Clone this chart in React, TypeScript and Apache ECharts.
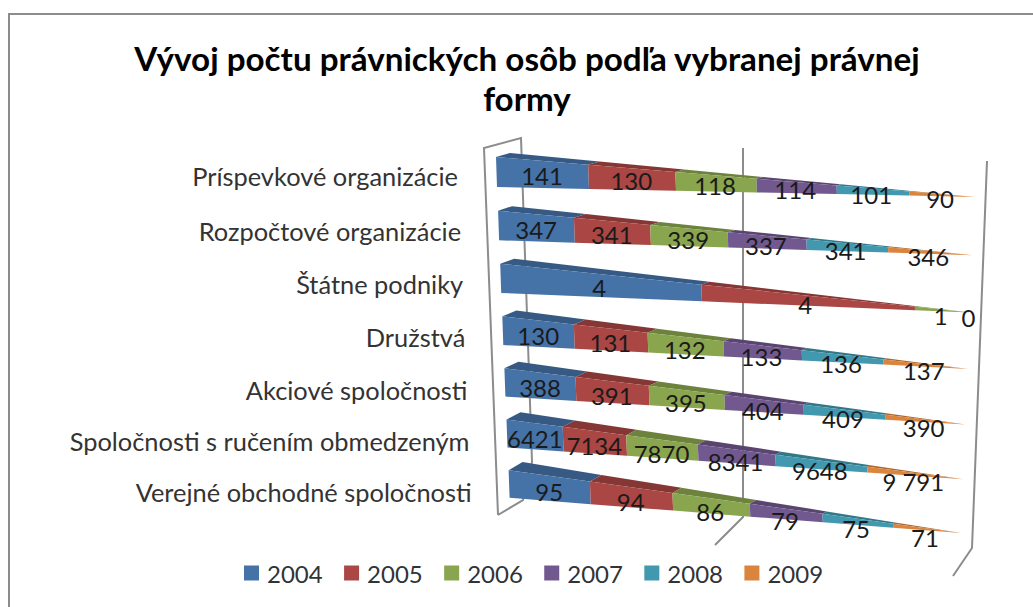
import React, { useEffect, useRef } from "react";
import * as echarts from "echarts";

const titleText = "Vývoj počtu právnických osôb podľa vybranej právnej\nformy";
const categories = [
  "Príspevkové organizácie",
  "Rozpočtové organizácie",
  "Štátne podniky",
  "Družstvá",
  "Akciové spoločnosti",
  "Spoločnosti s ručením obmedzeným",
  "Verejné obchodné spoločnosti",
];
const years = ["2004", "2005", "2006", "2007", "2008", "2009"];
const values2004 = [141, 347, 4, 130, 388, 6421, 95];
const values2005 = [130, 341, 4, 131, 391, 7134, 94];
const values2006 = [118, 339, 1, 132, 395, 7870, 86];
const values2007 = [114, 337, 0, 133, 404, 8341, 79];
const values2008 = [101, 341, 0, 136, 409, 9648, 75];
const values2009 = [90, 346, 0, 137, 390, 9791, 71];
const yearValues = [values2004, values2005, values2006, values2007, values2008, values2009];
// The state-enterprise row only shows four labels: 4, 4, 1, 0.
const hiddenLabels = new Set(["4-2", "5-2"]);
const frontColors = ["#4572A7", "#AA4643", "#89A54E", "#71588F", "#4198AF", "#DB843D"];
const topColors = ["#365A84", "#853735", "#6C823D", "#594570", "#337889", "#AD682F"];

const FONT = "Lato, 'Noto Sans', sans-serif";
const GRID = { left: 500, top: 150, width: 470, height: 385 };

const quad = (a: number, b: number, c: number, r: number) => a + b * r + c * r * r;

// Perspective camera: maps flat axis pixels to the tilted 3D bar.
function project(fx: number, fy: number, layer: "front" | "bottom" | "back" | "mid") {
  const u = (fx - GRID.left) / GRID.width;
  const r = ((fy - GRID.top) / GRID.height) * categories.length - 0.5;
  const k = 1.07;
  const t = u / (u + (1 - u) * k);
  const tip = [975 - 2.33 * r, quad(197, 58.6, -0.43, r)];
  const fx0 = 496 + 2.1 * r;
  let start: number[];
  if (layer === "front") start = [fx0, quad(157, 54, -0.3, r)];
  else if (layer === "bottom") start = [fx0 + 1, quad(187, 53.6, -0.3, r)];
  else if (layer === "back") start = [fx0 + 14, quad(153, 53.5, -0.33, r)];
  else start = [fx0 + 0.5, quad(172, 53.8, -0.3, r)];
  return [start[0] + (tip[0] - start[0]) * t, start[1] + (tip[1] - start[1]) * t];
}

function makeSeries(yearIndex: number) {
  const data = categories.map((_, row) => {
    const rowValues = yearValues.map((v) => v[row]);
    const total = rowValues.reduce((a, b) => a + b, 0);
    const before = rowValues.slice(0, yearIndex).reduce((a, b) => a + b, 0);
    return [(before / total) * 100, ((before + rowValues[yearIndex]) / total) * 100, row];
  });
  return {
    type: "custom",
    name: years[yearIndex],
    coordinateSystem: "cartesian2d",
    clip: false,
    silent: true,
    z: 5,
    itemStyle: { color: frontColors[yearIndex] },
    encode: { x: [0, 1], y: 2 },
    data,
    renderItem: (params: any, api: any) => {
      const row = api.value(2);
      const a = api.coord([api.value(0), row]);
      const b = api.coord([api.value(1), row]);
      const fa = project(a[0], a[1], "front");
      const fb = project(b[0], b[1], "front");
      const ba = project(a[0], a[1], "bottom");
      const bb = project(b[0], b[1], "bottom");
      const ta = project(a[0], a[1], "back");
      const tb = project(b[0], b[1], "back");
      const midX = (a[0] + b[0]) / 2;
      const center = project(midX, a[1], "mid");
      const children: any[] = [
        { type: "polygon", shape: { points: [ta, tb, fb, fa] }, style: { fill: topColors[yearIndex] } },
        { type: "polygon", shape: { points: [fa, fb, bb, ba] }, style: { fill: frontColors[yearIndex] } },
      ];
      const value = yearValues[yearIndex][params.dataIndex];
      const key = `${yearIndex}-${params.dataIndex}`;
      if (!hiddenLabels.has(key)) {
        const text = value === 9791 ? "9 791" : String(value);
        const u = (midX - GRID.left) / GRID.width;
        const r = row;
        children.push({
          type: "text",
          z2: 100,
          style: {
            x: center[0] - 2 * u,
            y: center[1] + 1 + 0.2 * r + u * (2 + 0.7 * r),
            text,
            fill: "#1a1a1a",
            font: `24px ${FONT}`,
            align: "center",
            verticalAlign: "middle",
          },
        });
      }
      return { type: "group", children };
    },
  };
}

const categorySeries = {
  type: "custom",
  name: "categories",
  coordinateSystem: "cartesian2d",
  clip: false,
  silent: true,
  z: 5,
  encode: { x: 0, y: 1 },
  data: categories.map((_, row) => [0, row]),
  renderItem: (params: any, api: any) => {
    const p = api.coord([0, api.value(1)]);
    const f = project(p[0], p[1], "front");
    const r = params.dataIndex;
    return {
      type: "text",
      style: {
        x: f[0] - 37 + (r === 0 ? -1 : 0),
        y: quad(176, 55, -0.4, r),
        text: categories[r],
        fill: "#333333",
        font: `25.4px ${FONT}`,
        align: "right",
        verticalAlign: "middle",
      },
    };
  },
};

const wallLine = (points: number[][]) => ({
  type: "polyline",
  z: 1,
  silent: true,
  shape: { points },
  style: { stroke: "#8c8c8c", lineWidth: 2, fill: "none" },
});

export default function App() {
  const ref = useRef<HTMLDivElement>(null);
  useEffect(() => {
    document.body.style.margin = "0";
    const chart = echarts.init(ref.current!, undefined, { renderer: "svg" });
    chart.setOption({
      animation: false,
      backgroundColor: "#ffffff",
      title: {
        text: titleText,
        left: 522,
        top: 33,
        textAlign: "center",
        textStyle: { fontFamily: FONT, fontWeight: "bold", fontSize: 33.2, lineHeight: 40, color: "#000000" },
      },
      grid: { ...GRID, containLabel: false },
      xAxis: { type: "value", min: 0, max: 100, show: false },
      yAxis: { type: "category", data: categories, inverse: true, show: false },
      legend: {
        data: years,
        left: 244,
        top: 561,
        padding: 0,
        icon: "rect",
        itemWidth: 15,
        itemHeight: 15,
        itemGap: 21.4,
        selectedMode: false,
        textStyle: { fontFamily: FONT, fontSize: 24, color: "#333333", padding: [0, 0, 0, 3] },
      },
      graphic: {
        elements: [
          wallLine([[9, 607], [9, 14], [1033, 14]]),
          wallLine([[498, 515], [484, 148], [521, 138], [532, 462], [523, 500], [498, 515]]),
          wallLine([[743, 148], [743, 517], [715, 545]]),
          wallLine([[987, 161], [972, 548], [953, 576]]),
        ],
      },
      series: [...years.map((_, i) => makeSeries(i)), categorySeries],
    });
    return () => chart.dispose();
  }, []);
  return <div ref={ref} style={{ width: 1033, height: 607 }} />;
}
